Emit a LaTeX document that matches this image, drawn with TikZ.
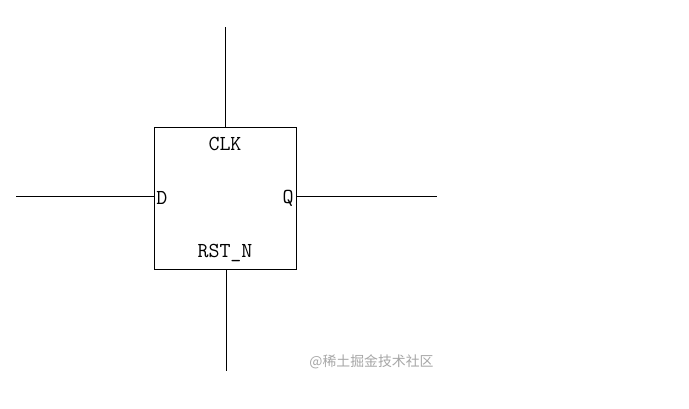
\documentclass[tikz,border=0pt]{standalone}
\usepackage{fontspec}
\newfontfamily\cjk{Noto Sans CJK SC}
\usetikzlibrary{positioning}

\begin{document}
\begin{tikzpicture}[
    x=0.75pt, y=-0.75pt,
    font=\fontsize{16}{18}\ttfamily,
    wire/.style={draw, line width=0.75pt},
    ffbox/.style={draw, line width=0.75pt, minimum width=106.5pt, minimum height=106.5pt, inner sep=0pt},
    pin/.style={inner sep=0pt}
]
\useasboundingbox (0,0) rectangle (689,408);
\node[ffbox] (ff) at (225,198) {};
\node[pin, below=7.8pt of ff.north] (clk) {CLK};
\node[pin, above=5.6pt of ff.south] (rst) {RST\_N};
\node[pin, right=2pt of ff.west] (d) {D};
\node[pin, left=2pt of ff.east] (q) {Q};
\coordinate[above=74.5pt of ff.north] (clkend);
\coordinate[below=76pt of ff.south, xshift=0.75pt] (rstend);
\coordinate[left=103pt of ff.west, yshift=1.5pt] (dend);
\coordinate[right=105pt of ff.east, yshift=1.5pt] (qend);
\draw[wire] (ff.north) -- (clkend);
\draw[wire] ([xshift=0.75pt]ff.south) -- (rstend);
\draw[wire] ([yshift=1.5pt]ff.west) -- (dend);
\draw[wire] ([yshift=1.5pt]ff.east) -- (qend);
\node[inner sep=0pt, text=black!35, font=\fontsize{10.4}{12}\cjk] (mark) at (371.5,362) {@稀土掘金技术社区};
\end{tikzpicture}
\end{document}
